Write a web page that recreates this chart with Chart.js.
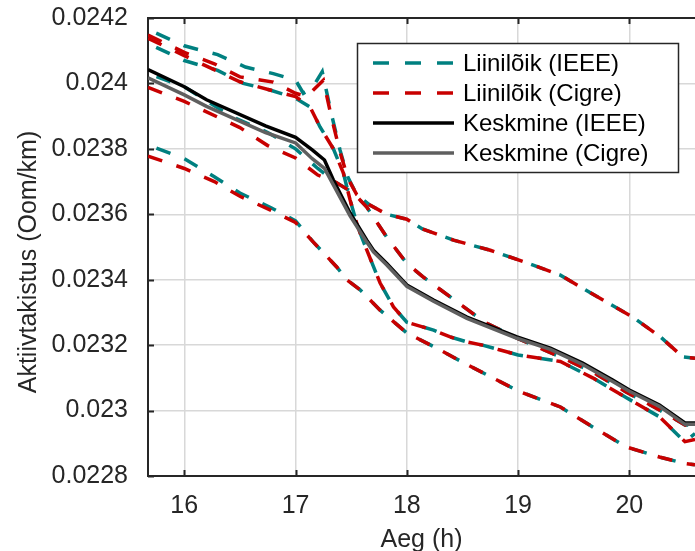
<!DOCTYPE html>
<html><head><meta charset="utf-8">
<script src="https://cdn.jsdelivr.net/npm/chart.js@4.4.1/dist/chart.umd.min.js"></script>
<style>html,body{margin:0;padding:0;background:#fff}#wrap{width:695px;height:551px;position:relative}</style>
</head><body><div id="wrap"><canvas id="c" width="695" height="551"></canvas></div>
<script>
const FONT = '"Liberation Sans", Arial, Helvetica, sans-serif';

// axis ranges and tick labels
const xMin = 15.674, xMax = 20.59;
const yMin = 0.0228, yMax = 0.0242;
const xTickValues = [16, 17, 18, 19, 20];
const yTickValues = [0.0228, 0.023, 0.0232, 0.0234, 0.0236, 0.0238, 0.024, 0.0242];
const yTickLabels = ['0.0228', '0.023', '0.0232', '0.0234', '0.0236', '0.0238', '0.024', '0.0242'];

// Line section 1
const s1IeeeX = [15.674, 16.0, 16.3, 16.55, 16.8, 17.0, 17.07, 17.15, 17.24, 17.32, 17.4, 17.47, 17.55, 17.66, 17.82, 18.0, 18.14, 18.42, 18.75, 19.06, 19.38, 19.65, 20.03, 20.28, 20.48, 20.59];
const s1IeeeY = [0.024165, 0.024115, 0.024088, 0.02405, 0.02403, 0.02401, 0.02397, 0.023986, 0.024036, 0.02391, 0.023796, 0.023714, 0.02366, 0.02363, 0.0236, 0.023585, 0.023555, 0.023521, 0.02349, 0.023454, 0.023414, 0.02336, 0.023286, 0.023225, 0.023164, 0.02316];
const s1CigreX = [15.674, 16.0, 16.27, 16.5, 16.8, 17.0, 17.1, 17.25, 17.32, 17.4, 17.47, 17.55, 17.66, 17.82, 18.0, 18.14, 18.42, 18.75, 19.06, 19.38, 19.65, 20.03, 20.28, 20.48, 20.59];
const s1CigreY = [0.024148, 0.024095, 0.02406, 0.02402, 0.024004, 0.02397, 0.02396, 0.02401, 0.0239, 0.02379, 0.02371, 0.02366, 0.02363, 0.0236, 0.023585, 0.023555, 0.023521, 0.02349, 0.023454, 0.023414, 0.02336, 0.023286, 0.023225, 0.023164, 0.02316];

// Line section 2
const s2IeeeX = [15.674, 16.0, 16.3, 16.53, 16.77, 17.0, 17.13, 17.22, 17.34, 17.43, 17.49, 17.56, 17.64, 17.76, 17.88, 18.0, 18.24, 18.39, 18.54, 18.68, 18.84, 19.0, 19.38, 19.67, 19.97, 20.27, 20.5, 20.59];
const s2IeeeY = [0.024122, 0.02407, 0.02404, 0.024, 0.02398, 0.023955, 0.023928, 0.023867, 0.0238, 0.023726, 0.023644, 0.023561, 0.023491, 0.02339, 0.023317, 0.02327, 0.023246, 0.023225, 0.02321, 0.0232, 0.023185, 0.02317, 0.02315, 0.0231, 0.02304, 0.022981, 0.022904, 0.02293];
const s2CigreX = [15.674, 16.0, 16.5, 16.77, 17.0, 17.13, 17.22, 17.34, 17.43, 17.49, 17.56, 17.64, 17.76, 17.88, 18.0, 18.24, 18.39, 18.54, 18.68, 18.84, 19.0, 19.38, 19.67, 19.97, 20.27, 20.5, 20.59];
const s2CigreY = [0.024138, 0.024085, 0.024005, 0.02398, 0.02396, 0.023928, 0.023867, 0.0238, 0.023726, 0.023644, 0.023561, 0.023491, 0.02339, 0.023317, 0.02327, 0.023246, 0.023225, 0.02321, 0.0232, 0.023185, 0.02317, 0.02315, 0.0231, 0.02304, 0.022981, 0.022905, 0.022912];

// Line section 3
const s3IeeeX = [15.674, 16.0, 16.42, 16.75, 17.0, 17.2, 17.35, 17.52, 17.64, 17.82, 18.0, 18.14, 18.3, 18.5, 18.7, 19.0, 19.38, 19.67, 19.97, 20.27, 20.5, 20.59];
const s3IeeeY = [0.02403, 0.02399, 0.0239, 0.02385, 0.0238, 0.02374, 0.0237, 0.023665, 0.023622, 0.02353, 0.02345, 0.02341, 0.02337, 0.02332, 0.02327, 0.02322, 0.023164, 0.023118, 0.023057, 0.023002, 0.022956, 0.022956];
const s3CigreX = [15.674, 16.0, 16.5, 16.75, 17.0, 17.2, 17.35, 17.52, 17.64, 17.82, 18.0, 18.14, 18.3, 18.5, 18.7, 19.0, 19.38, 19.67, 19.97, 20.27, 20.5, 20.59];
const s3CigreY = [0.023988, 0.023945, 0.023865, 0.02381, 0.023772, 0.02372, 0.0237, 0.023665, 0.023622, 0.02353, 0.02345, 0.02341, 0.02337, 0.02332, 0.02327, 0.02322, 0.023164, 0.023118, 0.023057, 0.023002, 0.022956, 0.022956];

// Line section 4
const s4IeeeX = [15.674, 16.0, 16.27, 16.5, 16.78, 17.0, 17.16, 17.37, 17.46, 17.58, 17.76, 18.0, 18.25, 18.5, 19.0, 19.38, 19.67, 19.97, 20.27, 20.5, 20.59];
const s4IeeeY = [0.023812, 0.02377, 0.023715, 0.023665, 0.02362, 0.02358, 0.023515, 0.023439, 0.0234, 0.023369, 0.023307, 0.023237, 0.023194, 0.023148, 0.02306, 0.023011, 0.02295, 0.022889, 0.022858, 0.022838, 0.022834];
const s4CigreX = [15.674, 16.0, 16.27, 16.5, 16.78, 17.0, 17.16, 17.37, 17.46, 17.58, 17.76, 18.0, 18.25, 18.5, 19.0, 19.38, 19.67, 19.97, 20.27, 20.5, 20.59];
const s4CigreY = [0.023778, 0.02374, 0.0237, 0.023655, 0.023612, 0.023575, 0.023515, 0.023439, 0.0234, 0.023369, 0.023307, 0.023237, 0.023194, 0.023148, 0.02306, 0.023011, 0.02295, 0.022889, 0.022858, 0.022838, 0.022834];

// Averages
const avgIeeeX = [15.674, 16.0, 16.2, 16.73, 17.0, 17.15, 17.26, 17.34, 17.49, 17.64, 17.7, 17.82, 18.0, 18.24, 18.54, 18.99, 19.29, 19.58, 19.85, 20.0, 20.27, 20.5, 20.59];
const avgIeeeY = [0.024042, 0.02399, 0.02395, 0.02387, 0.023835, 0.023797, 0.023766, 0.023705, 0.023604, 0.023521, 0.02349, 0.02345, 0.023384, 0.023338, 0.023286, 0.023225, 0.023191, 0.023145, 0.023093, 0.023063, 0.023017, 0.022962, 0.022962];
const avgCigreX = [15.674, 16.0, 16.2, 16.73, 17.0, 17.15, 17.26, 17.34, 17.49, 17.64, 17.7, 17.82, 18.0, 18.24, 18.54, 18.99, 19.29, 19.58, 19.85, 20.0, 20.27, 20.5, 20.59];
const avgCigreY = [0.024017, 0.023965, 0.02393, 0.02385, 0.023818, 0.02377, 0.02374, 0.02369, 0.023595, 0.023515, 0.023485, 0.023445, 0.02338, 0.023334, 0.023282, 0.023221, 0.023187, 0.023141, 0.023089, 0.023059, 0.023013, 0.022958, 0.022958];

const legendLabels = ['Liinilõik (IEEE)', 'Liinilõik (Cigre)', 'Keskmine (IEEE)', 'Keskmine (Cigre)'];

const TEAL = '#008080', RED = '#c80000', BLACK = '#000000', GRAY = '#5f5f5f';
const pts = (xs, ys) => xs.map((x, i) => ({x: x, y: ys[i]}));
const dashed = (label, xs, ys, color, offset, order) => ({
  label, data: pts(xs, ys), borderColor: color, backgroundColor: color,
  borderWidth: 3.5, borderDash: [15, 15], borderDashOffset: offset,
  pointRadius: 0, tension: 0, fill: false, order
});
const solid = (label, xs, ys, color, order) => ({
  label, data: pts(xs, ys), borderColor: color, backgroundColor: color,
  borderWidth: 3.5, pointRadius: 0, tension: 0, fill: false, order
});

const datasets = [
  solid(legendLabels[3], avgCigreX, avgCigreY, GRAY, 0),
  solid(legendLabels[2], avgIeeeX, avgIeeeY, BLACK, 1),
  dashed(legendLabels[1], s1CigreX, s1CigreY, RED, 0, 2),
  dashed(legendLabels[1], s2CigreX, s2CigreY, RED, 0, 2),
  dashed(legendLabels[1], s3CigreX, s3CigreY, RED, 0, 2),
  dashed(legendLabels[1], s4CigreX, s4CigreY, RED, 0, 2),
  dashed(legendLabels[0], s1IeeeX, s1IeeeY, TEAL, 21, 3),
  dashed(legendLabels[0], s2IeeeX, s2IeeeY, TEAL, 21, 3),
  dashed(legendLabels[0], s3IeeeX, s3IeeeY, TEAL, 21, 3),
  dashed(legendLabels[0], s4IeeeX, s4IeeeY, TEAL, 21, 3)
];

const AXIS = '#262626';

const framePlugin = {
  id: 'framePlugin',
  afterDraw(chart) {
    const ctx = chart.ctx, ca = chart.chartArea;
    const xs = chart.scales.x, ys = chart.scales.y;
    ctx.save();
    // top border
    ctx.strokeStyle = AXIS; ctx.lineWidth = 2; ctx.setLineDash([]);
    ctx.beginPath(); ctx.moveTo(ca.left, ca.top); ctx.lineTo(ca.right, ca.top); ctx.stroke();
    // inner tick marks
    ctx.lineWidth = 2;
    xs.ticks.forEach(t => {
      const px = Math.round(xs.getPixelForValue(t.value)) + 0.5;
      ctx.beginPath();
      ctx.moveTo(px, ca.bottom); ctx.lineTo(px, ca.bottom - 6);
      ctx.moveTo(px, ca.top); ctx.lineTo(px, ca.top + 6);
      ctx.stroke();
    });
    ys.ticks.forEach(t => {
      const py = Math.round(ys.getPixelForValue(t.value)) + 0.5;
      ctx.beginPath(); ctx.moveTo(ca.left, py); ctx.lineTo(ca.left + 6, py); ctx.stroke();
    });
    // y axis title
    ctx.save();
    ctx.translate(29, 262); ctx.rotate(-Math.PI / 2);
    ctx.fillStyle = AXIS; ctx.font = '25px ' + FONT;
    ctx.textAlign = 'center'; ctx.textBaseline = 'middle';
    ctx.fillText('Aktiivtakistus (Oom/km)', 0, 0);
    ctx.restore();
    // legend
    const bx = 357, by = 43, bw = 321, bh = 129;
    ctx.fillStyle = '#ffffff'; ctx.fillRect(bx, by, bw, bh);
    ctx.strokeStyle = AXIS; ctx.lineWidth = 1.5;
    ctx.strokeRect(bx + 0.5, by + 0.5, bw, bh);
    const items = [
      {label: legendLabels[0], color: TEAL, dash: [16, 16], w: 3.5},
      {label: legendLabels[1], color: RED, dash: [16, 16], w: 3.5},
      {label: legendLabels[2], color: BLACK, dash: [], w: 3.5},
      {label: legendLabels[3], color: GRAY, dash: [], w: 3.5}
    ];
    items.forEach((it, i) => {
      const cy = 63 + i * 30;
      ctx.strokeStyle = it.color; ctx.lineWidth = it.w; ctx.setLineDash(it.dash);
      ctx.beginPath(); ctx.moveTo(373, cy); ctx.lineTo(454, cy); ctx.stroke();
      ctx.setLineDash([]);
      ctx.fillStyle = '#000'; ctx.font = '24px ' + FONT;
      ctx.textAlign = 'left'; ctx.textBaseline = 'middle';
      ctx.fillText(it.label, 463, cy + 1);
    });
    ctx.restore();
  }
};

new Chart(document.getElementById('c'), {
  type: 'line',
  data: {datasets},
  options: {
    responsive: false, animation: false, devicePixelRatio: 1,
    layout: {padding: {top: 18, right: 0, left: 0, bottom: 0}},
    plugins: {legend: {display: false}, tooltip: {enabled: false}},
    scales: {
      x: {
        type: 'linear', min: xMin, max: xMax,
        afterFit: s => { s.height = 75; s.paddingLeft = 0; s.paddingRight = 0; },
        afterBuildTicks: s => { s.ticks = xTickValues.map(v => ({value: v})); },
        ticks: {font: {size: 25, family: FONT}, color: AXIS, padding: 15, maxRotation: 0, includeBounds: false,
                callback: v => String(v)},
        grid: {color: '#d8d8d8', lineWidth: 1.5, drawTicks: false},
        border: {display: true, color: AXIS, width: 2},
        title: {display: true, text: 'Aeg (h)', font: {size: 25, family: FONT, lineHeight: 1}, color: AXIS, padding: {top: 0, bottom: -2}}
      },
      y: {
        type: 'linear', min: yMin, max: yMax,
        afterFit: s => { s.width = 148; s.paddingTop = 0; s.paddingBottom = 0; },
        afterBuildTicks: s => { s.ticks = yTickValues.map(v => ({value: v})); },
        ticks: {font: {size: 25, family: FONT}, color: AXIS, padding: 20,
                callback: (v) => { const i = yTickValues.findIndex(t => Math.abs(t - v) < 1e-9); return i >= 0 ? yTickLabels[i] : ''; }},
        grid: {color: '#d8d8d8', lineWidth: 1.5, drawTicks: false},
        border: {display: true, color: AXIS, width: 2}
      }
    }
  },
  plugins: [framePlugin]
});
</script>
</body></html>
